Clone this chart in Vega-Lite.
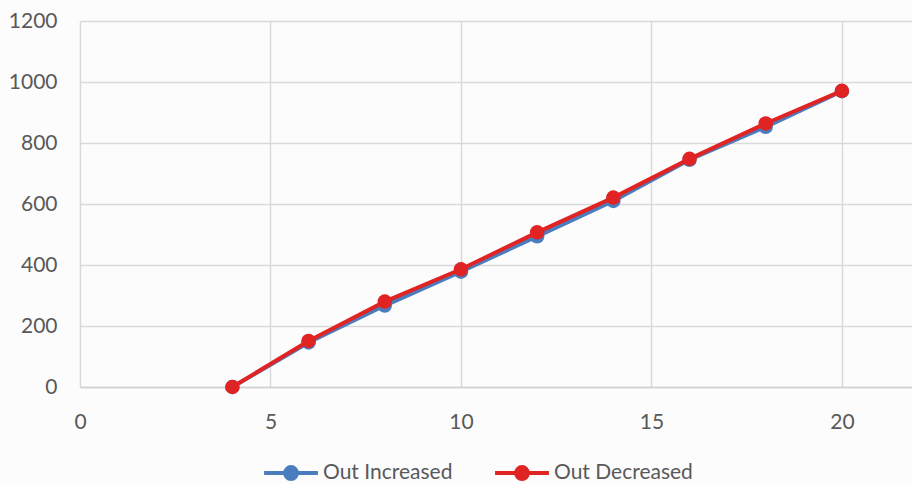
{
  "$schema": "https://vega.github.io/schema/vega-lite/v6.json",
  "width": 832,
  "height": 366,
  "autosize": "none",
  "padding": {"left": 80, "top": 21, "right": 0, "bottom": 97},
  "background": "#fcfcfd",
  "config": {
    "view": {"stroke": null},
    "font": "Lato",
    "axis": {
      "labelFont": "Lato",
      "labelFontSize": 21,
      "labelColor": "#595959",
      "gridColor": "#d9d9d9",
      "gridWidth": 1.5,
      "domainColor": "#d0d0d0",
      "domainWidth": 1.5,
      "ticks": false,
      "title": null
    },
    "legend": {
      "labelFont": "Lato",
      "labelFontSize": 21,
      "labelColor": "#595959"
    }
  },
  "data": {
    "values": [
      {"x": 4, "y": 0, "series": "Out Increased"},
      {"x": 6, "y": 146, "series": "Out Increased"},
      {"x": 8, "y": 267, "series": "Out Increased"},
      {"x": 10, "y": 378, "series": "Out Increased"},
      {"x": 12, "y": 494, "series": "Out Increased"},
      {"x": 14, "y": 610, "series": "Out Increased"},
      {"x": 16, "y": 745, "series": "Out Increased"},
      {"x": 18, "y": 853, "series": "Out Increased"},
      {"x": 20, "y": 970, "series": "Out Increased"},
      {"x": 4, "y": 0, "series": "Out Decreased"},
      {"x": 6, "y": 151, "series": "Out Decreased"},
      {"x": 8, "y": 280, "series": "Out Decreased"},
      {"x": 10, "y": 386, "series": "Out Decreased"},
      {"x": 12, "y": 507, "series": "Out Decreased"},
      {"x": 14, "y": 621, "series": "Out Decreased"},
      {"x": 16, "y": 748, "series": "Out Decreased"},
      {"x": 18, "y": 864, "series": "Out Decreased"},
      {"x": 20, "y": 971, "series": "Out Decreased"}
    ]
  },
  "encoding": {
    "x": {
      "field": "x",
      "type": "quantitative",
      "scale": {"domain": [0, 21.84], "nice": false, "zero": false},
      "axis": {"values": [0, 5, 10, 15, 20], "labelPadding": 24, "grid": true, "labelFlush": false}
    },
    "y": {
      "field": "y",
      "type": "quantitative",
      "scale": {"domain": [0, 1200], "nice": false},
      "axis": {"values": [0, 200, 400, 600, 800, 1000, 1200], "format": "d", "labelPadding": 23, "grid": true, "domain": false}
    },
    "color": {
      "field": "series",
      "type": "nominal",
      "scale": {"domain": ["Out Increased", "Out Decreased"], "range": ["#4a7dbe", "#e02424"]},
      "legend": {
        "title": null,
        "orient": "none",
        "direction": "horizontal",
        "legendX": 182,
        "legendY": 423,
        "symbolType": "M-1,0H1M-0.22,0A0.22,0.22 0 1,1 0.22,0A0.22,0.22 0 1,1 -0.22,0",
        "symbolSize": 2900,
        "symbolStrokeWidth": 4,
        "symbolLimit": 0,
        "labelOffset": 3,
        "columnPadding": 34,
        "symbolOpacity": 1,
        "encode": {
          "symbols": {"update": {"fill": {"scale": "color", "field": "value"}, "fillOpacity": {"value": 1}}}
        }
      }
    }
  },
  "layer": [
    {
      "transform": [{"filter": "datum.series === 'Out Increased'"}],
      "mark": {"type": "line", "strokeWidth": 4, "point": {"filled": true, "size": 210, "opacity": 1}}
    },
    {
      "transform": [{"filter": "datum.series === 'Out Decreased'"}],
      "mark": {"type": "line", "strokeWidth": 4, "point": {"filled": true, "size": 210, "opacity": 1}}
    }
  ]
}
